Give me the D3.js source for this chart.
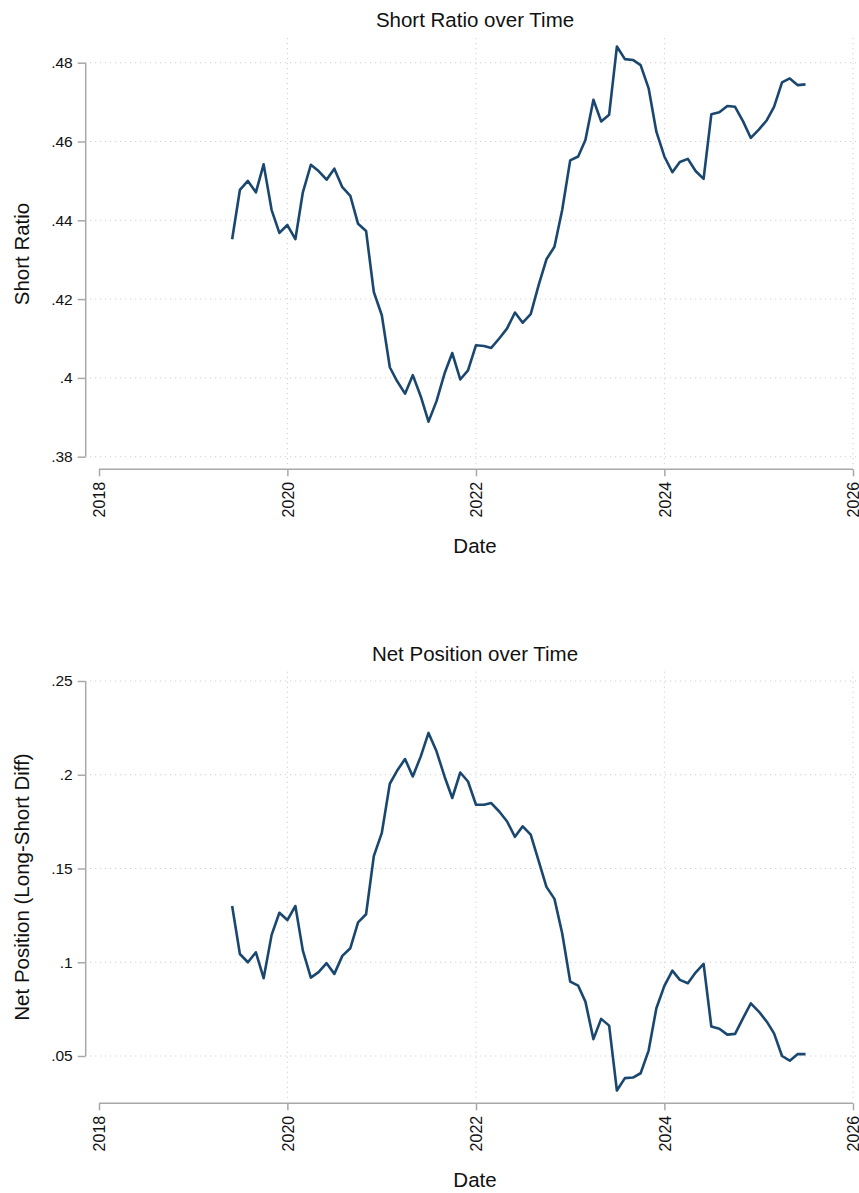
<!DOCTYPE html>
<html>
<head>
<meta charset="utf-8">
<script src="https://cdn.jsdelivr.net/npm/d3@7"></script>
<style>
  html, body { margin: 0; padding: 0; background: #fff; }
  svg { display: block; font-family: "Liberation Sans", Arial, sans-serif; }
</style>
</head>
<body>
<svg id="chart" width="859" height="1193"></svg>
<script>
// ---- Data ----
const startMonth = "2019-06";
const months = (function () {
  const out = [];
  let y = 2019, m = 6;
  for (let i = 0; i < 74; i++) {
    out.push(new Date(y, m - 1, 1));
    m++; if (m > 12) { m = 1; y++; }
  }
  return out;
})();

const shortRatio = [
  // 2019 Jun-Dec
  .4352, .4477, .4500, .4471, .4542, .4426, .4368,
  // 2020
  .4388, .4352, .4471, .4541, .4525, .4503, .4531, .4484, .4462, .4391, .4373, .4218,
  // 2021
  .4159, .4027, .3992, .3960, .4007, .3953, .3889, .3941, .4011, .4063, .3996, .4019,
  // 2022
  .4083, .4081, .4076, .4100, .4125, .4166, .4140, .4162, .4236, .4301, .4333, .4426,
  // 2023
  .4552, .4562, .4604, .4706, .4651, .4668, .4841, .4809, .4807, .4794, .4735, .4625,
  // 2024
  .4562, .4522, .4548, .4556, .4525, .4505, .4669, .4674, .4690, .4688, .4651, .4609,
  // 2025 Jan-Jul
  .4630, .4654, .4688, .4750, .4760, .4743, .4745
];

const netPosition = [
  // 2019 Jun-Dec
  .1300, .1044, .1000, .1053, .0915, .1146, .1264,
  // 2020
  .1225, .1300, .1062, .0918, .0947, .0995, .0938, .1034, .1075, .1213, .1256, .1566,
  // 2021
  .1690, .1952, .2021, .2084, .1991, .2098, .2223, .2125, .1991, .1876, .2012, .1964,
  // 2022
  .1840, .1840, .1849, .1804, .1752, .1669, .1725, .1681, .1539, .1402, .1338, .1155,
  // 2023
  .0897, .0875, .0790, .0590, .0698, .0662, .0316, .0382, .0385, .0408, .0529, .0755,
  // 2024
  .0874, .0955, .0906, .0888, .0945, .0991, .0657, .0645, .0614, .0618, .0702, .0781,
  // 2025 Jan-Jul
  .0737, .0683, .0621, .0500, .0475, .0511, .0510
];

const xTickYears = [2018, 2020, 2022, 2024, 2026];
const shortTicks = [.38, .40, .42, .44, .46, .48];
const netTicks = [.05, .10, .15, .20, .25];

// ---- Drawing ----
const svg = d3.select("#chart");
const LINE = "#1a476f";
const AXIS = "#a8a8a8";
const GRID = "#cfcfcf";

const x = d3.scaleTime()
  .domain([new Date(2018, 0, 1), new Date(2026, 0, 1)])
  .range([99, 853]);

function fmtY(v) { return String(+v.toFixed(2)).replace(/^0\./, "."); }

function panel(cfg) {
  const g = svg.append("g");
  const y = d3.scaleLinear().domain(cfg.yDomain).range(cfg.yRange);

  // gridlines (horizontal)
  g.append("g").selectAll("line").data(cfg.yTicks).join("line")
    .attr("x1", 90).attr("x2", 856)
    .attr("y1", d => y(d)).attr("y2", d => y(d))
    .attr("stroke", GRID).attr("stroke-width", 1)
    .attr("stroke-dasharray", "1.2,3.8");
  // gridlines (vertical), skip first year
  g.append("g").selectAll("line").data(xTickYears.slice(1)).join("line")
    .attr("x1", d => x(new Date(d, 0, 1))).attr("x2", d => x(new Date(d, 0, 1)))
    .attr("y1", cfg.plotTop).attr("y2", cfg.xAxisY - 3)
    .attr("stroke", GRID).attr("stroke-width", 1)
    .attr("stroke-dasharray", "1.2,3.8");

  // y axis
  const yAxis = d3.axisLeft(y).tickValues(cfg.yTicks).tickFormat(fmtY)
    .tickSize(8).tickPadding(5);
  const ya = g.append("g").attr("transform", `translate(85.7,0)`).call(yAxis);
  ya.select(".domain").attr("stroke", AXIS).attr("stroke-width", 1.5)
    .attr("d", `M0,${y(cfg.yDomain[0])}V${y(cfg.yDomain[1])}`);
  ya.selectAll(".tick line").attr("stroke", AXIS).attr("stroke-width", 1.5);
  ya.selectAll(".tick text").attr("fill", "#111").style("font-size", "15.5px");

  // x axis
  const xAxis = d3.axisBottom(x).tickValues(xTickYears.map(d => new Date(d, 0, 1)))
    .tickFormat(d3.timeFormat("%Y")).tickSize(7);
  const xa = g.append("g").attr("transform", `translate(0,${cfg.xAxisY})`).call(xAxis);
  xa.select(".domain").attr("stroke", AXIS).attr("stroke-width", 1.5)
    .attr("d", `M${x(new Date(2018,0,1))},0H${x(new Date(2026,0,1))}`);
  xa.selectAll(".tick line").attr("stroke", AXIS).attr("stroke-width", 1.5);
  xa.selectAll(".tick text")
    .attr("fill", "#111").style("font-size", "16px")
    .attr("transform", "rotate(-90)")
    .attr("text-anchor", "end")
    .attr("x", -12.5).attr("y", 0).attr("dy", "0.36em");

  // line
  const line = d3.line().x((d, i) => x(months[i])).y(d => y(d));
  g.append("path").datum(cfg.values)
    .attr("d", line)
    .attr("fill", "none").attr("stroke", LINE)
    .attr("stroke-width", 2.6).attr("stroke-linejoin", "round");

  // titles
  g.append("text").attr("x", 475).attr("y", cfg.titleY)
    .attr("text-anchor", "middle").style("font-size", "20.5px").attr("fill", "#111")
    .text(cfg.title);
  g.append("text").attr("x", 475).attr("y", cfg.dateY)
    .attr("text-anchor", "middle").style("font-size", "20.5px").attr("fill", "#111")
    .text("Date");
  g.append("text")
    .attr("transform", `translate(29,${cfg.yLabelCenter}) rotate(-90)`)
    .attr("text-anchor", "middle").style("font-size", "20.5px").attr("fill", "#111")
    .text(cfg.yLabel);
}

panel({
  title: "Short Ratio over Time",
  yLabel: "Short Ratio",
  values: shortRatio,
  yDomain: [.38, .48], yRange: [456.7, 62.7],
  yTicks: shortTicks,
  plotTop: 38, xAxisY: 469.3,
  titleY: 26.7, dateY: 553, yLabelCenter: 254
});

panel({
  title: "Net Position over Time",
  yLabel: "Net Position (Long-Short Diff)",
  values: netPosition,
  yDomain: [.05, .25], yRange: [1056, 681],
  yTicks: netTicks,
  plotTop: 671.7, xAxisY: 1103.3,
  titleY: 660.7, dateY: 1187.3, yLabelCenter: 887
});
</script>
</body>
</html>
